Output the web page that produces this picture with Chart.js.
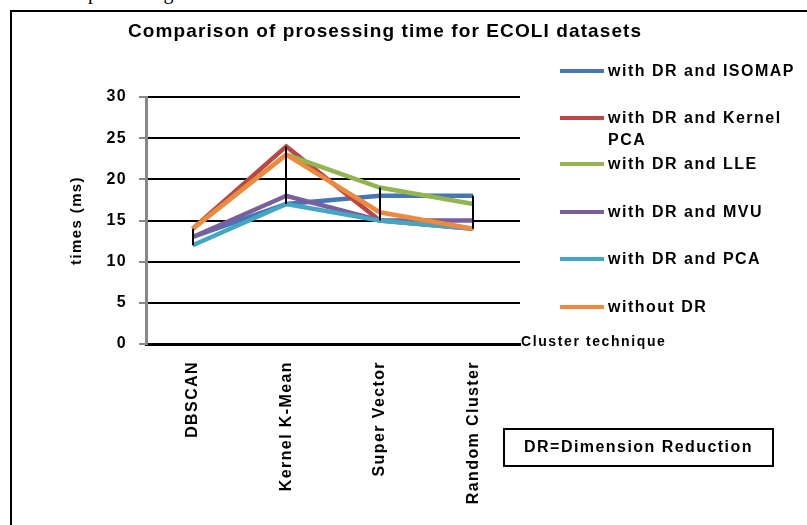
<!DOCTYPE html>
<html>
<head>
<meta charset="utf-8">
<script src="https://cdn.jsdelivr.net/npm/chart.js@4.4.1/dist/chart.umd.min.js"></script>
<style>
  html, body { margin: 0; padding: 0; background: #fff; }
  body { width: 807px; height: 525px; position: relative; overflow: hidden; }
  #chart { position: absolute; left: 0; top: 0; }
  .txt { position: absolute; font-family: "Liberation Sans", Arial, sans-serif; font-weight: bold; color: #000; line-height: 1; white-space: nowrap; }
  #frame { position: absolute; left: 10px; top: 10px; width: 900px; height: 600px; border-left: 2px solid #000; border-top: 2px solid #000; }
  #paper { position: absolute; left: 88px; top: -18px; font: 20px/1 "Liberation Serif", "Times New Roman", serif; color: #000; white-space: nowrap; }
  #title { left: 128px; top: 21px; font-size: 19px; letter-spacing: 1.1px; }
  .leg { position: absolute; left: 560px; width: 44px; height: 4px; }
  .legtxt { left: 608px; font-size: 16px; letter-spacing: 1.5px; }
  #xname { left: 521px; top: 334px; font-size: 14px; letter-spacing: 1.6px; }
  #drbox { position: absolute; left: 503px; top: 428px; width: 267px; height: 35px; border: 2px solid #000; }
  #drtxt { left: 505px; width: 267px; top: 439px; font-size: 16px; letter-spacing: 1.45px; text-align: center; }
</style>
</head>
<body>
<div id="paper">processing time.</div>
<div id="frame"></div>
<canvas id="chart" width="807" height="525"></canvas>
<div id="title" class="txt">Comparison of prosessing time for ECOLI datasets</div>
<div id="legend"></div>
<div id="xname" class="txt">Cluster technique</div>
<div id="drbox"></div>
<div id="drtxt" class="txt">DR=Dimension Reduction</div>
<script>
// Cluster techniques on the x axis
const categories = ['DBSCAN', 'Kernel K-Mean', 'Super Vector', 'Random Cluster'];

// Processing time (ms) per technique
const isomap    = [13, 17, 18, 18];
const kernelPca = [14, 24, 15, 14];
const lle       = [14, 23, 19, 17];
const mvu       = [13, 18, 15, 15];
const pca       = [12, 17, 15, 14];
const withoutDr = [14, 23, 16, 14];

const seriesNames = ['with DR and ISOMAP', 'with DR and Kernel PCA', 'with DR and LLE',
                     'with DR and MVU', 'with DR and PCA', 'without DR'];
const seriesValues = [isomap, kernelPca, lle, mvu, pca, withoutDr];
const seriesColors = ['#4576B5', '#BA4744', '#93B550', '#7A5E9E', '#43A6C2', '#EE8A3E'];

// Legend rows (text centre positions) built as HTML
const legendRows = [70.7, 117.7, 164.3, 212.3, 259, 306.7];
const legendLines = [['with DR and ISOMAP'], ['with DR and Kernel', 'PCA'], ['with DR and LLE'],
                     ['with DR and MVU'], ['with DR and PCA'], ['without DR']];
const legendEl = document.getElementById('legend');
legendRows.forEach((cy, i) => {
  const line = document.createElement('div');
  line.className = 'leg';
  line.style.top = (cy - 2) + 'px';
  line.style.background = seriesColors[i];
  legendEl.appendChild(line);
  const t = document.createElement('div');
  t.className = 'txt legtxt';
  t.style.top = (cy - 8) + 'px';
  t.style.lineHeight = '22px';
  t.style.marginTop = '-3px';
  t.innerHTML = legendLines[i].join('<br>');
  legendEl.appendChild(t);
});

// Vertical high-low line at each category, from lowest to highest series value
const highLowLines = {
  id: 'highLowLines',
  afterDatasetsDraw(chart) {
    const { ctx, scales: { x, y } } = chart;
    ctx.save();
    ctx.strokeStyle = '#000';
    ctx.lineWidth = 2;
    categories.forEach((c, i) => {
      const vals = seriesValues.map(s => s[i]);
      const px = Math.round(x.getPixelForValue(i));
      ctx.beginPath();
      ctx.moveTo(px, y.getPixelForValue(Math.max(...vals)));
      ctx.lineTo(px, y.getPixelForValue(Math.min(...vals)));
      ctx.stroke();
    });
    ctx.restore();
  }
};

// Slightly spaced-out axis lettering
const spacing = {
  id: 'spacing',
  beforeLayout(chart) { chart.ctx.letterSpacing = '1.4px'; },
  beforeDraw(chart) { chart.ctx.letterSpacing = '1.4px'; }
};

const axisFont = { family: '"Liberation Sans", Arial, sans-serif', weight: 'bold', size: 16 };

new Chart(document.getElementById('chart'), {
  type: 'line',
  data: {
    labels: categories,
    datasets: seriesValues.map((vals, i) => ({
      label: seriesNames[i],
      data: vals,
      borderColor: seriesColors[i],
      backgroundColor: seriesColors[i],
      borderWidth: 4.5,
      pointRadius: 0,
      tension: 0,
      order: seriesValues.length - i
    }))
  },
  options: {
    responsive: false,
    animation: false,
    events: [],
    layout: { padding: { top: 97, right: 287, bottom: 0, left: 0 } },
    plugins: { legend: { display: false }, title: { display: false }, tooltip: { enabled: false } },
    scales: {
      x: {
        offset: true,
        grid: { display: false, drawTicks: false },
        border: { color: '#000', width: 3 },
        ticks: { color: '#000', font: axisFont, minRotation: 90, maxRotation: 90, autoSkip: false, padding: 17 },
        afterFit(scale) { scale.height = 181; }
      },
      y: {
        min: 0, max: 30,
        grid: { color: '#000', lineWidth: 2, tickColor: '#888', tickLength: 7 },
        border: { color: '#888', width: 3 },
        ticks: { stepSize: 5, color: '#000', font: axisFont, padding: 12 },
        title: {
          display: true, text: 'times (ms)', color: '#000',
          font: { family: '"Liberation Sans", Arial, sans-serif', weight: 'bold', size: 15 },
          padding: { top: 68, bottom: 0 }
        },
        afterFit(scale) { scale.width = 146; }
      }
    }
  },
  plugins: [spacing, highLowLines]
});
</script>
</body>
</html>
